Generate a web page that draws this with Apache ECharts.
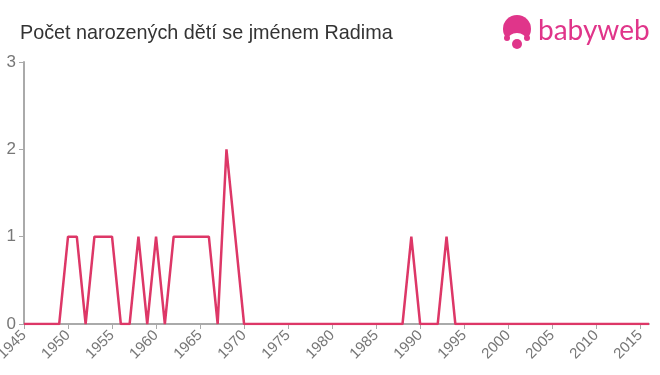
<!DOCTYPE html>
<html><head><meta charset="utf-8">
<script src="https://cdn.jsdelivr.net/npm/echarts@6/dist/echarts.min.js"></script>
<style>html,body{margin:0;padding:0;background:#fff}#c{width:660px;height:375px}</style>
</head><body><div id="c"></div>
<script>
var title = 'Počet narozených dětí se jménem Radima';
var years = [1945,1946,1947,1948,1949,1950,1951,1952,1953,1954,1955,1956,1957,1958,1959,1960,1961,1962,1963,1964,1965,1966,1967,1968,1969,1970,1971,1972,1973,1974,1975,1976,1977,1978,1979,1980,1981,1982,1983,1984,1985,1986,1987,1988,1989,1990,1991,1992,1993,1994,1995,1996,1997,1998,1999,2000,2001,2002,2003,2004,2005,2006,2007,2008,2009,2010,2011,2012,2013,2014,2015,2016];
var counts = [0,0,0,0,0,1,1,0,1,1,1,0,0,1,0,1,0,1,1,1,1,1,0,2,1,0,0,0,0,0,0,0,0,0,0,0,0,0,0,0,0,0,0,0,1,0,0,0,1,0,0,0,0,0,0,0,0,0,0,0,0,0,0,0,0,0,0,0,0,0,0,0];
var pairs = years.map(function(y,i){return [y, counts[i]];});
var chart = echarts.init(document.getElementById('c'));
var grey = '#aaaaaa';
var pink = '#e0358a';
chart.setOption({
  animation:false,
  title:{text:title,left:15,top:19,textStyle:{fontFamily:'Liberation Sans, Arial',fontSize:19.8,fontWeight:'normal',color:'#333'}},
  grid:{left:24,right:11,top:62,bottom:51,containLabel:false,outerBoundsMode:'none'},
  xAxis:{type:'value',min:1945,max:2016,interval:5,
    axisLine:{lineStyle:{color:grey,width:2}},
    axisTick:{show:true,length:5,lineStyle:{color:grey,width:1}},
    splitLine:{show:false},
    axisLabel:{rotate:45,color:'#777',fontSize:15,fontFamily:'Liberation Sans, Arial',margin:9,showMaxLabel:false,hideOverlap:false,
      formatter:function(v){return String(v);}}},
  yAxis:{type:'value',min:0,max:3,interval:1,
    axisLine:{show:true,lineStyle:{color:grey,width:2}},
    axisTick:{show:true,length:5,lineStyle:{color:grey}},
    splitLine:{show:false},
    axisLabel:{color:'#777',fontSize:17,fontFamily:'Liberation Sans, Arial',margin:8}},
  series:[{type:'line',data:pairs,showSymbol:false,symbol:'none',
    lineStyle:{color:'#dd3767',width:2.5},itemStyle:{color:'#dd3767'}}],
  graphic:[
    {type:'circle',shape:{cx:517,cy:29,r:14},style:{fill:pink}},
    {type:'ellipse',shape:{cx:517,cy:40,rx:9,ry:7},style:{fill:'#fff'}},
    {type:'circle',shape:{cx:507,cy:38,r:3},style:{fill:pink}},
    {type:'circle',shape:{cx:527,cy:38,r:3},style:{fill:pink}},
    {type:'circle',shape:{cx:517,cy:44,r:5},style:{fill:pink}},
    {type:'text',left:538,top:17,style:{text:'babyweb',fill:pink,fontSize:28,fontFamily:'Lato, Liberation Sans, Arial'}}
  ]
});
</script></body></html>
